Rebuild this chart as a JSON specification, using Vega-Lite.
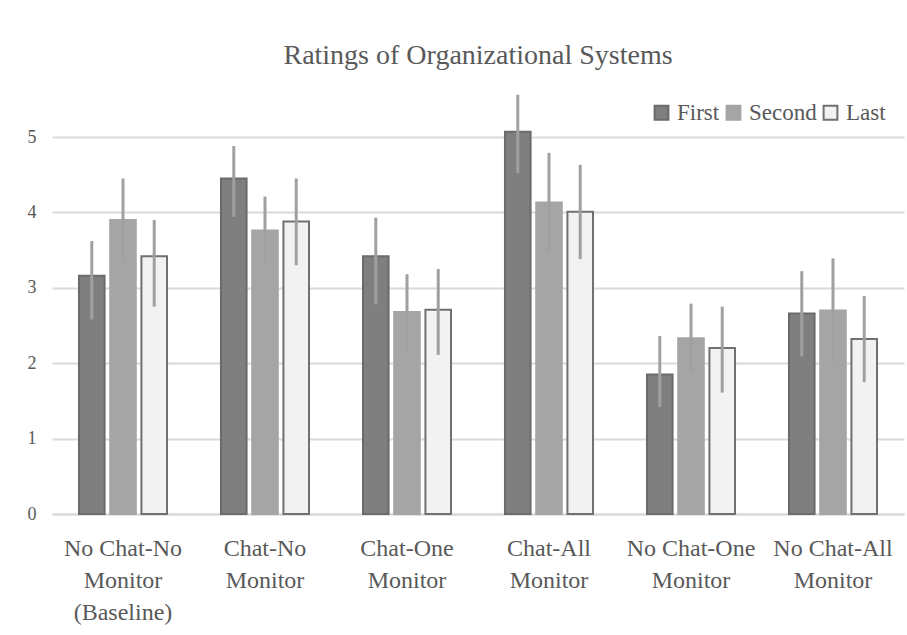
{
  "$schema": "https://vega.github.io/schema/vega-lite/v6.json",
  "width": 852,
  "height": 377,
  "autosize": {"type": "none"},
  "padding": {"left": 52, "top": 137, "right": 3, "bottom": 121},
  "background": "white",
  "title": {
    "text": "Ratings of Organizational Systems",
    "frame": "group",
    "anchor": "middle",
    "offset": 23,
    "font": "Liberation Serif",
    "fontSize": 28,
    "fontWeight": "normal",
    "color": "#595959"
  },
  "config": {
    "view": {"stroke": null},
    "font": "Liberation Serif"
  },
  "data": {
    "values": [
      {"condition": "No Chat-No Monitor (Baseline)", "series": "First", "mean": 3.16, "lo": 2.58, "hi": 3.62},
      {"condition": "No Chat-No Monitor (Baseline)", "series": "Second", "mean": 3.90, "lo": 3.35, "hi": 4.45},
      {"condition": "No Chat-No Monitor (Baseline)", "series": "Last", "mean": 3.42, "lo": 2.75, "hi": 3.90},
      {"condition": "Chat-No Monitor", "series": "First", "mean": 4.45, "lo": 3.94, "hi": 4.88},
      {"condition": "Chat-No Monitor", "series": "Second", "mean": 3.76, "lo": 3.31, "hi": 4.21},
      {"condition": "Chat-No Monitor", "series": "Last", "mean": 3.88, "lo": 3.30, "hi": 4.45},
      {"condition": "Chat-One Monitor", "series": "First", "mean": 3.42, "lo": 2.78, "hi": 3.93},
      {"condition": "Chat-One Monitor", "series": "Second", "mean": 2.68, "lo": 2.18, "hi": 3.18},
      {"condition": "Chat-One Monitor", "series": "Last", "mean": 2.71, "lo": 2.11, "hi": 3.25},
      {"condition": "Chat-All Monitor", "series": "First", "mean": 5.07, "lo": 4.52, "hi": 5.56},
      {"condition": "Chat-All Monitor", "series": "Second", "mean": 4.13, "lo": 3.47, "hi": 4.79},
      {"condition": "Chat-All Monitor", "series": "Last", "mean": 4.01, "lo": 3.38, "hi": 4.63},
      {"condition": "No Chat-One Monitor", "series": "First", "mean": 1.85, "lo": 1.42, "hi": 2.36},
      {"condition": "No Chat-One Monitor", "series": "Second", "mean": 2.33, "lo": 1.87, "hi": 2.79},
      {"condition": "No Chat-One Monitor", "series": "Last", "mean": 2.20, "lo": 1.61, "hi": 2.75},
      {"condition": "No Chat-All Monitor", "series": "First", "mean": 2.66, "lo": 2.09, "hi": 3.22},
      {"condition": "No Chat-All Monitor", "series": "Second", "mean": 2.70, "lo": 2.01, "hi": 3.39},
      {"condition": "No Chat-All Monitor", "series": "Last", "mean": 2.32, "lo": 1.75, "hi": 2.89}
    ]
  },
  "encoding": {
    "x": {
      "field": "condition",
      "type": "nominal",
      "sort": null,
      "scale": {"paddingInner": 0.38, "paddingOuter": 0.19},
      "axis": {
        "title": null,
        "labelAngle": 0,
        "labelFont": "Liberation Serif",
        "labelFontSize": 24,
        "labelColor": "#595959",
        "labelLineHeight": 32,
        "labelPadding": 22,
        "labelLimit": 200,
        "ticks": false,
        "domain": true,
        "domainColor": "#d9d9d9",
        "domainWidth": 2,
        "labelExpr": "split(replace(replace(datum.label, ' Monitor', '|Monitor'), ' (', '|('), '|')"
      }
    },
    "xOffset": {
      "field": "series",
      "type": "nominal",
      "sort": ["First", "Second", "Last"],
      "scale": {"paddingInner": 0.18}
    }
  },
  "layer": [
    {
      "mark": {"type": "bar", "strokeWidth": 2},
      "encoding": {
        "y": {
          "field": "mean",
          "type": "quantitative",
          "scale": {"domain": [0, 5], "nice": false},
          "axis": {
            "title": null,
            "values": [0, 1, 2, 3, 4, 5],
            "format": "d",
            "labelFont": "Liberation Serif",
            "labelFontSize": 18,
            "labelColor": "#595959",
            "labelPadding": 16,
            "ticks": false,
            "domain": false,
            "grid": true,
            "gridColor": "#d9d9d9",
            "gridWidth": 2
          }
        },
        "color": {
          "field": "series",
          "type": "nominal",
          "sort": ["First", "Second", "Last"],
          "scale": {"domain": ["First", "Second", "Last"], "range": ["#7f7f7f", "#a5a5a5", "#f2f2f2"]},
          "legend": {
            "title": null,
            "orient": "none",
            "legendX": 598,
            "legendY": -36,
            "direction": "horizontal",
            "symbolType": "square",
            "symbolSize": 190,
            "symbolStrokeWidth": 2,
            "labelFont": "Liberation Serif",
            "labelFontSize": 23,
            "labelColor": "#595959",
            "labelOffset": 4,
            "columnPadding": 2
          }
        },
        "stroke": {
          "field": "series",
          "type": "nominal",
          "sort": ["First", "Second", "Last"],
          "scale": {"domain": ["First", "Second", "Last"], "range": ["#6b6b6b", "#a5a5a5", "#707070"]},
          "legend": null
        }
      }
    },
    {
      "mark": {"type": "rule", "color": "#a0a0a0", "strokeWidth": 3, "clip": false},
      "encoding": {
        "y": {"field": "lo", "type": "quantitative"},
        "y2": {"field": "hi"}
      }
    }
  ]
}
